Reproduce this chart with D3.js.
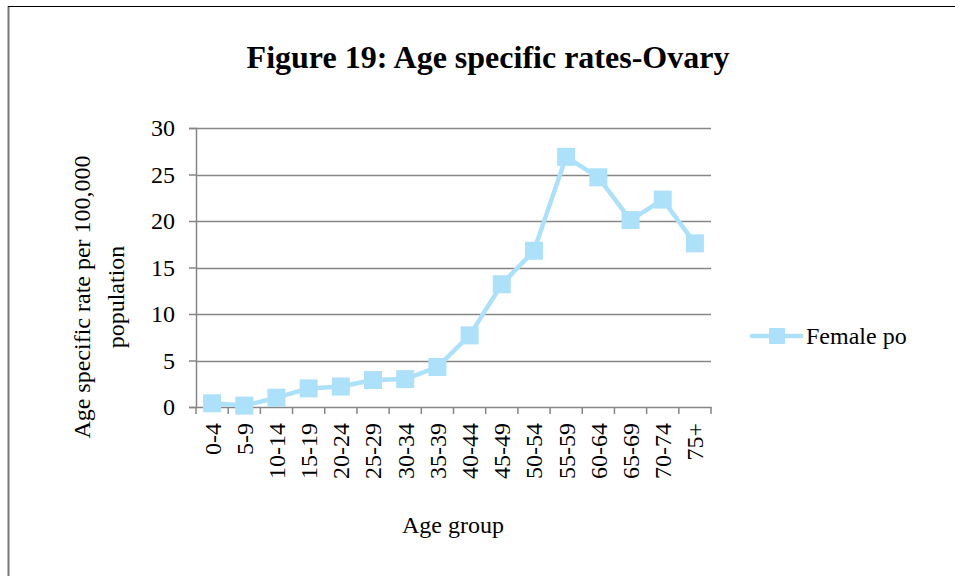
<!DOCTYPE html>
<html>
<head>
<meta charset="utf-8">
<script src="https://cdn.jsdelivr.net/npm/d3@7"></script>
<style>
  body { margin: 0; background: #fff; }
  text { font-family: "Liberation Serif", "Times New Roman", serif; fill: #000; }
</style>
</head>
<body>
<svg id="chart" width="955" height="576"></svg>
<script>
// data
var ageGroups = ["0-4","5-9","10-14","15-19","20-24","25-29","30-34","35-39","40-44","45-49","50-54","55-59","60-64","65-69","70-74","75+"];
var rates = [0.4, 0.15, 1.0, 2.0, 2.2, 2.9, 3.0, 4.3, 7.7, 13.2, 16.8, 26.9, 24.7, 20.1, 22.3, 17.6];
var yTicks = [0, 5, 10, 15, 20, 25, 30];
var seriesName = "Female po";

var lineColor = "#ade1fa";
var gridColor = "#868686";
var fs = "24px";

var svg = d3.select("#chart");

// frame
svg.append("line").attr("x1", 8.5).attr("x2", 8.5).attr("y1", 6).attr("y2", 576)
    .attr("stroke", "#777").attr("stroke-width", 2);
svg.append("line").attr("x1", 8).attr("x2", 955).attr("y1", 6.5).attr("y2", 6.5)
    .attr("stroke", "#000").attr("stroke-width", 1);

var margin = {left: 196, right: 711, top: 128, bottom: 407};

var x = d3.scaleBand().domain(ageGroups).range([margin.left, margin.right]);
var y = d3.scaleLinear().domain([0, 30]).range([margin.bottom, margin.top]);

// gridlines
svg.append("g").selectAll("line").data(yTicks.filter(function(d){ return d > 0; }))
    .enter().append("line")
    .attr("x1", margin.left).attr("x2", margin.right)
    .attr("y1", function(d){ return Math.round(y(d)) + 0.5; })
    .attr("y2", function(d){ return Math.round(y(d)) + 0.5; })
    .attr("stroke", gridColor).attr("stroke-width", 1.5);

// y axis
var yAxis = svg.append("g")
    .attr("transform", "translate(" + margin.left + ",0)")
    .call(d3.axisLeft(y).tickValues(yTicks).tickSize(7).tickPadding(14));
yAxis.selectAll("text").style("font-size", fs).style("font-family", "Liberation Serif");
yAxis.selectAll("line, path").attr("stroke", gridColor).attr("stroke-width", 1.5);

// x axis
var xAxis = svg.append("g")
    .attr("transform", "translate(0," + margin.bottom + ")")
    .call(d3.axisBottom(x).tickSize(0).tickPadding(0));
xAxis.select(".domain").attr("stroke", gridColor).attr("stroke-width", 1.5);
xAxis.selectAll("text")
    .style("font-size", fs).style("font-family", "Liberation Serif")
    .attr("transform", "translate(0,16)rotate(-90)")
    .attr("dy", "0.35em")
    .attr("x", 0).attr("y", 0)
    .style("text-anchor", "end");
// ticks between categories
svg.append("g").selectAll("line").data(d3.range(ageGroups.length + 1))
    .enter().append("line")
    .attr("x1", function(i){ return margin.left + i * x.step(); })
    .attr("x2", function(i){ return margin.left + i * x.step(); })
    .attr("y1", margin.bottom).attr("y2", margin.bottom + 7)
    .attr("stroke", gridColor).attr("stroke-width", 1.5);

// series line
var line = d3.line()
    .x(function(d, i){ return x(ageGroups[i]) + x.bandwidth() / 2; })
    .y(function(d){ return y(d); });

svg.append("path").datum(rates)
    .attr("d", line)
    .attr("fill", "none")
    .attr("stroke", lineColor)
    .attr("stroke-width", 4.5)
    .attr("stroke-linejoin", "round");

var ms = 18;
svg.append("g").selectAll("rect").data(rates)
    .enter().append("rect")
    .attr("x", function(d, i){ return x(ageGroups[i]) + x.bandwidth() / 2 - ms / 2; })
    .attr("y", function(d){ return y(d) - ms / 2; })
    .attr("width", ms).attr("height", ms)
    .attr("fill", lineColor);

// title
svg.append("text")
    .attr("x", 488).attr("y", 68)
    .style("text-anchor", "middle")
    .style("font-size", "32px").style("font-weight", "bold")
    .text("Figure 19: Age specific rates-Ovary");

// y axis title
var yt = svg.append("text")
    .attr("transform", "translate(90,297)rotate(-90)")
    .style("text-anchor", "middle")
    .style("font-size", fs);
yt.append("tspan").attr("x", 0).attr("y", 0).text("Age specific rate per 100,000");
yt.append("tspan").attr("x", 0).attr("y", 34).text("population");

// x axis title
svg.append("text")
    .attr("x", 453).attr("y", 533)
    .style("text-anchor", "middle")
    .style("font-size", fs)
    .text("Age group");

// legend
var lg = svg.append("g").attr("transform", "translate(752,336)");
lg.append("line").attr("x1", 0).attr("x2", 49).attr("y1", 0).attr("y2", 0)
    .attr("stroke", lineColor).attr("stroke-width", 4.5).attr("stroke-linecap", "round");
lg.append("rect").attr("x", 17).attr("y", -8).attr("width", 16).attr("height", 16).attr("fill", lineColor);
lg.append("text").attr("x", 54).attr("y", 8).style("font-size", fs).text(seriesName);
</script>
</body>
</html>
